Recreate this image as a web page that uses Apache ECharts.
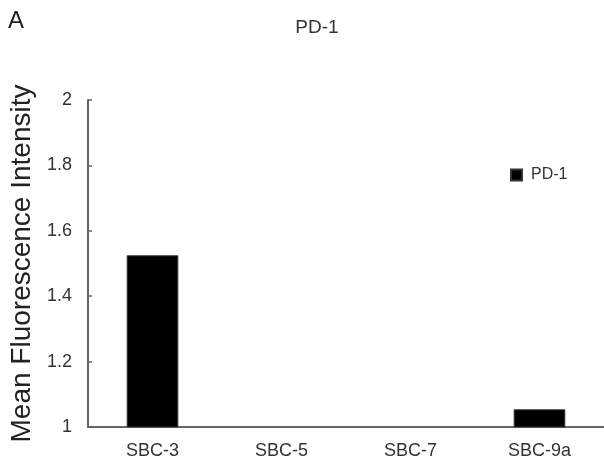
<!DOCTYPE html>
<html>
<head>
<meta charset="utf-8">
<script src="https://cdn.jsdelivr.net/npm/echarts@6/dist/echarts.min.js"></script>
<style>
  html, body { margin: 0; padding: 0; background: #fff; }
  #chart { width: 604px; height: 467px; }
</style>
</head>
<body>
<div id="chart"></div>
<script>
// Cell lines and their PD-1 mean fluorescence intensity
const categories = ['SBC-3', 'SBC-5', 'SBC-7', 'SBC-9a'];
const pd1Values = [1.525, 1.0, 1.0, 1.054];
const seriesName = 'PD-1';
const yMin = 1, yMax = 2, yStep = 0.2;

const font = 'Liberation Sans, Arial, sans-serif';
const textColor = '#333';
const axisColor = '#666';

const chart = echarts.init(document.getElementById('chart'), null, { renderer: 'canvas' });
chart.setOption({
  animation: false,
  backgroundColor: '#fff',
  textStyle: { fontFamily: font },
  title: [
    { text: 'PD-1', left: 317, top: 18, textAlign: 'center', padding: 0,
      textStyle: { fontFamily: font, fontSize: 19, fontWeight: 'normal', color: textColor } },
    { text: 'A', left: 8, top: 9, padding: 0,
      textStyle: { fontFamily: font, fontSize: 24, fontWeight: 'normal', color: '#222' } }
  ],
  legend: {
    data: [seriesName],
    left: 510, top: 167, padding: 0,
    icon: 'rect', itemWidth: 11, itemHeight: 11,
    textStyle: { fontFamily: font, fontSize: 16, color: textColor, padding: [0, 0, 0, 4] }
  },
  grid: { left: 88, right: 0, top: 100, bottom: 40, containLabel: false },
  xAxis: {
    type: 'category',
    data: categories,
    axisLine: { lineStyle: { color: axisColor, width: 2 } },
    axisTick: { inside: true, length: 4, lineStyle: { color: axisColor, width: 1.5 } },
    axisLabel: { fontFamily: font, fontSize: 18, color: textColor, margin: 15 },
    splitLine: { show: false }
  },
  yAxis: {
    type: 'value',
    min: yMin, max: yMax, interval: yStep,
    name: 'Mean Fluorescence Intensity',
    nameLocation: 'middle',
    nameGap: 44,
    nameTextStyle: { fontFamily: font, fontSize: 28, color: '#222' },
    axisLine: { show: true, lineStyle: { color: axisColor, width: 2 } },
    axisTick: { show: true, inside: true, length: 4, lineStyle: { color: axisColor, width: 1.5 } },
    axisLabel: { fontFamily: font, fontSize: 18, color: textColor, margin: 16,
      formatter: v => String(Math.round(v * 10) / 10) },
    splitLine: { show: false }
  },
  series: [{
    name: seriesName,
    type: 'bar',
    data: pd1Values,
    barWidth: '40%',
    itemStyle: { color: '#000', borderColor: '#333', borderWidth: 1 }
  }]
});
</script>
</body>
</html>
